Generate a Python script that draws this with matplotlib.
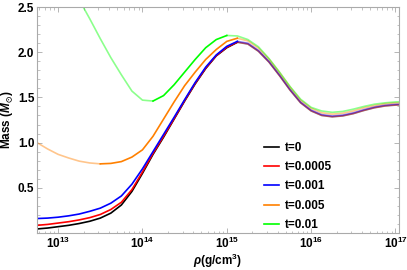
import numpy as np
import matplotlib
matplotlib.use("Agg")
import matplotlib.pyplot as plt
from matplotlib.ticker import FixedLocator, FuncFormatter, MultipleLocator

plt.rcParams['font.family'] = ['Liberation Sans', 'DejaVu Sans']
plt.rcParams['font.weight'] = 'bold'
plt.rcParams['mathtext.fontset'] = 'custom'
plt.rcParams['mathtext.rm'] = 'Liberation Sans:bold'
plt.rcParams['mathtext.bf'] = 'Liberation Sans:bold'
plt.rcParams['mathtext.it'] = 'Liberation Sans:bold:italic'
plt.rcParams['mathtext.fallback'] = 'stixsans'

# log10 of central density (g/cm^3)
log_rho = [12.75, 12.875, 13.0, 13.125, 13.25, 13.375, 13.5, 13.625, 13.75, 13.875,
           14.0, 14.125, 14.25, 14.375, 14.5, 14.625, 14.75, 14.875, 15.0, 15.125,
           15.25, 15.375, 15.5, 15.625, 15.75, 15.875, 16.0, 16.125, 16.25, 16.375,
           16.5, 16.625, 16.75, 16.875, 17.0, 17.125]

m_t0 = [0.045, 0.055, 0.07, 0.085, 0.105, 0.13, 0.165, 0.22, 0.31, 0.46,
        0.66, 0.87, 1.06, 1.26, 1.46, 1.65, 1.82, 1.96, 2.05, 2.11,
        2.09, 2.01, 1.89, 1.74, 1.58, 1.44, 1.35, 1.30, 1.285, 1.295,
        1.32, 1.355, 1.385, 1.405, 1.415, 1.42]
m_t00005 = [0.085, 0.095, 0.11, 0.125, 0.145, 0.17, 0.205, 0.26, 0.34, 0.48,
            0.675, 0.88, 1.07, 1.265, 1.465, 1.655, 1.825, 1.963, 2.055, 2.113,
            2.093, 2.013, 1.893, 1.743, 1.583, 1.443, 1.353, 1.303, 1.288, 1.298,
            1.323, 1.358, 1.388, 1.408, 1.418, 1.423]
m_t0001 = [0.16, 0.165, 0.175, 0.19, 0.21, 0.24, 0.275, 0.33, 0.41, 0.54,
           0.71, 0.9, 1.09, 1.28, 1.475, 1.665, 1.835, 1.97, 2.065, 2.12,
           2.10, 2.02, 1.90, 1.75, 1.59, 1.45, 1.36, 1.31, 1.295, 1.305,
           1.33, 1.365, 1.395, 1.415, 1.425, 1.43]
m_t0005 = [1.00, 0.93, 0.87, 0.83, 0.795, 0.775, 0.765, 0.77, 0.79, 0.84,
           0.92, 1.07, 1.26, 1.45, 1.63, 1.78, 1.92, 2.03, 2.12, 2.155,
           2.125, 2.045, 1.925, 1.775, 1.615, 1.47, 1.38, 1.33, 1.315, 1.325,
           1.35, 1.385, 1.41, 1.43, 1.44, 1.44]
m_t001 = [3.4, 3.15, 2.95, 2.75, 2.58, 2.37, 2.15, 1.94, 1.75, 1.57,
          1.47, 1.46, 1.52, 1.64, 1.78, 1.92, 2.05, 2.14, 2.185, 2.18,
          2.14, 2.06, 1.93, 1.78, 1.62, 1.48, 1.39, 1.35, 1.335, 1.345,
          1.37, 1.40, 1.425, 1.44, 1.45, 1.455]

labels = ['t=0', 't=0.0005', 't=0.001', 't=0.005', 't=0.01']
colors = ['black', '#ff0000', '#0000ff', '#ff8000', '#00ff00']
masses = [m_t0, m_t00005, m_t0001, m_t0005, m_t001]

fig = plt.figure(figsize=(4.07, 2.70), dpi=100)
ax = fig.add_axes([0.091, 0.137, 0.889, 0.837])

lr = np.array(log_rho)
rho = 10 ** lr
for m, c, lab in zip(masses, colors, labels):
    m = np.array(m)
    # maximum mass near 1e15, then the minimum on the low-density side of it
    i_max = int(np.argmax(np.where((lr > 14.5) & (lr < 15.8), m, -1)))
    i_min = int(np.argmin(m[:i_max + 1]))
    # unstable branches drawn faded
    ax.plot(rho[:i_min + 1], m[:i_min + 1], color=c, lw=1.2, alpha=0.45)
    ax.plot(rho[i_max:], m[i_max:], color=c, lw=1.2, alpha=0.45)
    ax.plot(rho[i_min:i_max + 1], m[i_min:i_max + 1], color=c, lw=1.2, label=lab)

ax.set_xscale('log')
ax.set_xlim(10 ** 12.75, 10 ** 17.04)
ax.set_ylim(0, 2.5)

ax.xaxis.set_major_locator(FixedLocator([1e13, 1e14, 1e15, 1e16, 1e17]))
ax.xaxis.set_major_formatter(FuncFormatter(lambda v, p: r'$\mathbf{10^{%d}}$' % round(np.log10(v))))
ax.yaxis.set_major_locator(MultipleLocator(0.5))
ax.yaxis.set_minor_locator(MultipleLocator(0.1))
ax.yaxis.set_major_formatter(FuncFormatter(lambda v, p: '' if v == 0 else '%.1f' % v))

for s in ax.spines.values():
    s.set_color('#aaaaaa')
ax.tick_params(which='both', direction='in', top=True, right=True, color='#aaaaaa',
               labelsize=8.5, pad=2)
ax.tick_params(which='major', length=3.5, width=0.6)
ax.tick_params(which='minor', length=1.8, width=0.5)

ax.set_xlabel(r'$\it{\rho}$(g/cm$^3$)', fontsize=8.5, fontweight='bold')
ax.set_ylabel(r'Mass ($\it{M}_{\odot}$)', fontsize=8.5, fontweight='bold')
ax.xaxis.set_label_coords(0.5, -0.085)
ax.yaxis.set_label_coords(-0.062, 0.5)

ax.legend(frameon=False, loc='upper left', bbox_to_anchor=(0.61, 0.43), borderpad=0,
          handlelength=1.3, handletextpad=0.5, labelspacing=0.62, fontsize=8.5)

fig.savefig('out.png', dpi=100)
